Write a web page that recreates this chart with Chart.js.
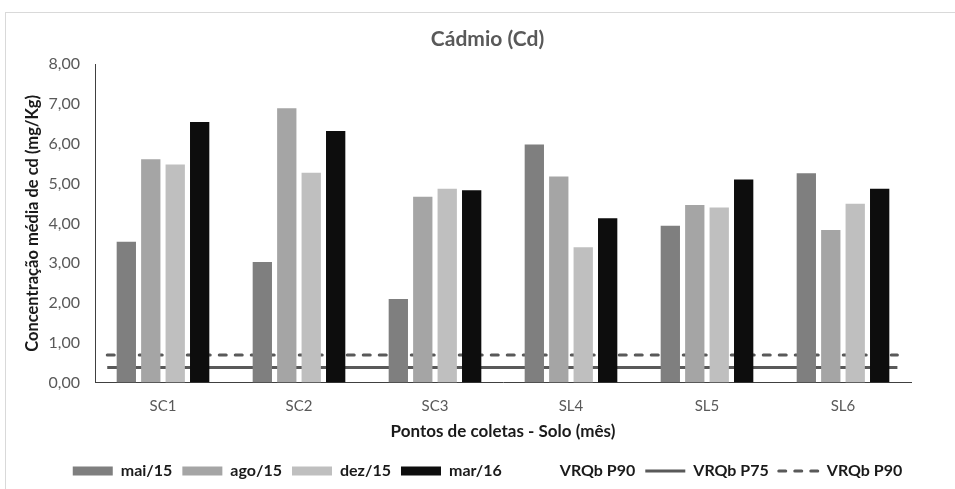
<!DOCTYPE html>
<html>
<head>
<meta charset="utf-8">
<script src="https://cdn.jsdelivr.net/npm/chart.js@4/dist/chart.umd.min.js"></script>
<style>
  html, body { margin: 0; padding: 0; background: #ffffff; overflow: hidden; }
  #wrap { position: relative; width: 955px; height: 489px; }
  #frame { position: absolute; left: 5px; top: 12px; width: 1000px; height: 1000px;
           border: 1px solid #d9d9d9; pointer-events: none; }
  canvas { position: absolute; left: 0; top: 0; }
</style>
</head>
<body>
<div id="wrap">
  <div id="frame"></div>
  <canvas id="chart" width="955" height="489"></canvas>
</div>
<script>
// Sampling points and mean Cd concentration (mg/Kg) per campaign
const categories = ['SC1', 'SC2', 'SC3', 'SL4', 'SL5', 'SL6'];
const mai15 = [3.54, 3.03, 2.10, 5.98, 3.94, 5.26];
const ago15 = [5.61, 6.89, 4.67, 5.18, 4.46, 3.83];
const dez15 = [5.48, 5.27, 4.87, 3.40, 4.40, 4.49];
const mar16 = [6.55, 6.32, 4.83, 4.13, 5.10, 4.87];

// Reference values (VRQb) and the stretch of the category axis (index units) they cover
const vrqbP75 = 0.38;
const vrqbP90 = 0.69;
const refSpan = [-0.41, 5.4];

// Y axis range and step
const yMin = 0, yMax = 8, yStep = 1;

const FONT = 'Lato, "Open Sans", sans-serif';
const GREY = '#595959';
const TEXT = '#1a1a1a';

const refLine = v => refSpan.map(x => ({ x: x, y: v }));
const fmt = v => Number(v).toFixed(2).replace('.', ',');

const ctx = document.getElementById('chart').getContext('2d');
new Chart(ctx, {
  data: {
    labels: categories,
    datasets: [
      { type: 'bar', label: 'mai/15', data: mai15, backgroundColor: '#7f7f7f' },
      { type: 'bar', label: 'ago/15', data: ago15, backgroundColor: '#a5a5a5' },
      { type: 'bar', label: 'dez/15', data: dez15, backgroundColor: '#bfbfbf' },
      { type: 'bar', label: 'mar/16', data: mar16, backgroundColor: '#0d0d0d' },
      { type: 'line', label: 'VRQb P75', data: refLine(vrqbP75), parsing: false,
        borderColor: GREY, borderWidth: 3, pointRadius: 0, fill: false },
      { type: 'line', label: 'VRQb P90', data: refLine(vrqbP90), parsing: false,
        borderColor: GREY, borderWidth: 3, borderDash: [7, 9], borderCapStyle: 'round',
        pointRadius: 0, fill: false }
    ]
  },
  options: {
    responsive: false,
    animation: false,
    events: [],
    layout: { padding: { left: 20, right: 0, top: 0, bottom: 0 } },
    datasets: { bar: { categoryPercentage: 0.719, barPercentage: 0.79 } },
    scales: {
      x: {
        type: 'category',
        grid: { display: false, drawTicks: false },
        border: { display: true, color: '#404040', width: 1 },
        ticks: { color: GREY, font: { family: FONT, size: 15 }, padding: 15 },
        title: { display: true, text: 'Pontos de coletas - Solo (mês)', color: TEXT,
                 font: { family: FONT, size: 17, weight: 'bold' }, padding: { top: 0, bottom: 11 } },
        afterFit: s => { s.height = 70.5; }
      },
      y: {
        min: yMin, max: yMax,
        grid: { display: false, drawTicks: false },
        border: { display: true, color: '#404040', width: 1 },
        ticks: { stepSize: yStep, color: GREY, font: { family: FONT, size: 16 }, padding: 15,
                 callback: v => fmt(v) },
        title: { display: true, text: 'Concentração média de cd (mg/Kg)', color: TEXT,
                 font: { family: FONT, size: 16.5, weight: 'bold' }, padding: { top: 3, bottom: 0 } },
        afterFit: s => { s.width = 75; }
      },
      // empty right-hand margin beside the plot
      yRight: {
        position: 'right', display: true,
        grid: { display: false, drawTicks: false },
        border: { display: false },
        ticks: { display: false },
        afterFit: s => { s.width = 44; }
      }
    },
    plugins: {
      tooltip: { enabled: false },
      title: {
        display: true, text: 'Cádmio (Cd)', color: GREY,
        font: { family: FONT, size: 21, weight: 'bold' },
        padding: { top: 27, bottom: 12 }
      },
      legend: {
        position: 'bottom',
        onClick: () => {},
        labels: {
          color: TEXT,
          font: { family: FONT, size: 16, weight: 'bold' },
          usePointStyle: true, pointStyleWidth: 40, boxHeight: 9, padding: 10,
          generateLabels: chart => {
            const ds = chart.data.datasets;
            const items = ds.slice(0, 4).map((d, i) => ({
              text: d.label, fillStyle: d.backgroundColor, strokeStyle: d.backgroundColor,
              lineWidth: 0, pointStyle: 'rect', datasetIndex: i, fontColor: TEXT
            }));
            items.push({ text: 'VRQb P90', fillStyle: 'rgba(0,0,0,0)', strokeStyle: 'rgba(0,0,0,0)',
                         lineWidth: 0, pointStyle: 'rect', fontColor: TEXT });
            [4, 5].forEach(i => items.push({
              text: ds[i].label, fillStyle: 'rgba(0,0,0,0)', strokeStyle: ds[i].borderColor,
              lineWidth: 3, lineDash: ds[i].borderDash || [], lineCap: ds[i].borderCapStyle || 'butt',
              pointStyle: 'line', datasetIndex: i, fontColor: TEXT
            }));
            return items;
          }
        }
      }
    }
  }
});
</script>
</body>
</html>
